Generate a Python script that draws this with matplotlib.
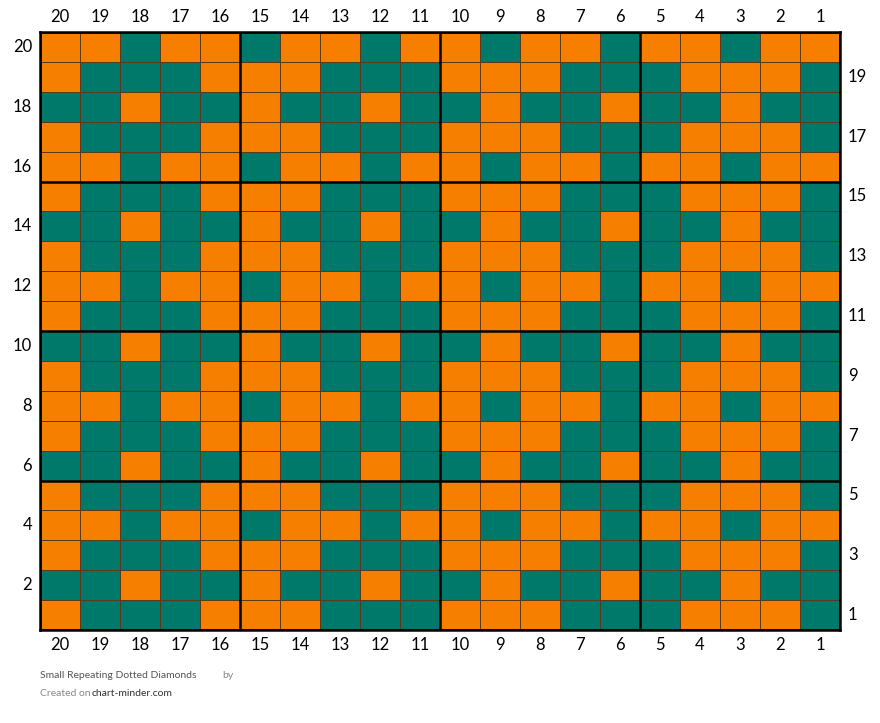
import matplotlib
matplotlib.use("Agg")
import matplotlib.pyplot as plt
from matplotlib.colors import ListedColormap
import numpy as np

# rows from 20 (top) down to 1; columns left to right are 20..1
row_numbers = list(range(20, 0, -1))
col_numbers = list(range(20, 0, -1))
A = "OOTOOTOOTOOTOOTOOTOO"
B = "OTTTOOOTTTOOOTTTOOOT"
C = "TTOTTOTTOTTOTTOTTOTT"
rows = [A, B, C, B, A, B, C, B, A, B, C, B, A, B, C, B, A, B, C, B]
orange = "#f77f00"
teal = "#00796b"

grid = np.array([[1 if ch == "T" else 0 for ch in r] for r in rows])

fig = plt.figure(figsize=(8.8, 7.23), dpi=100)
ax = fig.add_axes([40 / 880, 93 / 723, 800 / 880, 598 / 723])
ax.pcolormesh(grid, cmap=ListedColormap([orange, teal]), edgecolors="#5a3a1a", linewidth=0.6)
ax.set_xlim(0, 20)
ax.set_ylim(20, 0)
for k in range(0, 21, 5):
    ax.axvline(k, color="black", lw=1.8)
    ax.axhline(k, color="black", lw=1.8)
ax.set_xticks([])
ax.set_yticks([])
for s in ax.spines.values():
    s.set_linewidth(1.8)

fs = 12
for i, c in enumerate(col_numbers):
    ax.text(i + 0.5, -0.25, str(c), ha="center", va="bottom", fontsize=fs, family="Lato")
    ax.text(i + 0.5, 20.25, str(c), ha="center", va="top", fontsize=fs, family="Lato")
for j, r in enumerate(row_numbers):
    if r % 2 == 0:
        ax.text(-0.2, j + 0.5, str(r), ha="right", va="center", fontsize=fs, family="Lato")
    else:
        ax.text(20.2, j + 0.5, str(r), ha="left", va="center", fontsize=fs, family="Lato")

fig.text(40 / 880, 1 - 675 / 723, "Small Repeating Dotted Diamonds", fontsize=7.5, color="#555555",
         va="center", family="Lato")
fig.text(222 / 880, 1 - 675 / 723, "by", fontsize=7.5, color="#888888", va="center", family="Lato")
fig.text(40 / 880, 1 - 693 / 723, "Created on", fontsize=7.5, color="#888888", va="center", family="Lato")
fig.text(92 / 880, 1 - 693 / 723, "chart-minder.com", fontsize=7.5, color="#333333", va="center", family="Lato")

fig.savefig("out.png", dpi=100)
